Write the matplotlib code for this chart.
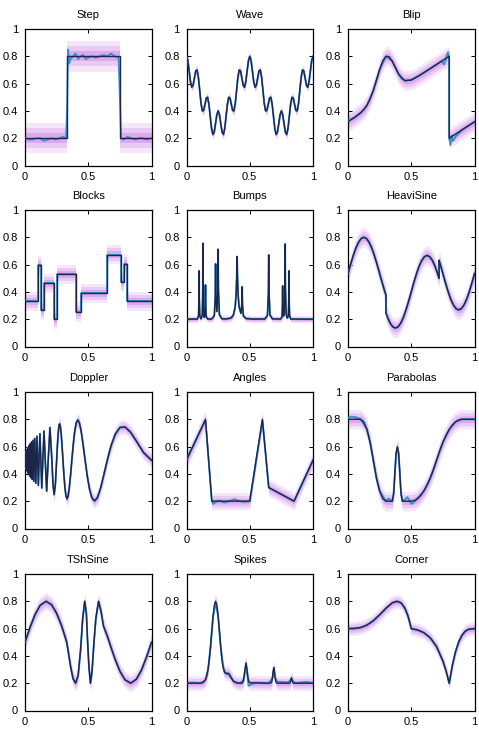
import numpy as np
import matplotlib
matplotlib.use("Agg")
import matplotlib.pyplot as plt

plt.rcParams['font.family'] = ['Liberation Sans', 'DejaVu Sans']

# ---------------- data ----------------
titles = ["Step", "Wave", "Blip", "Blocks", "Bumps", "HeaviSine",
          "Doppler", "Angles", "Parabolas", "TShSine", "Spikes", "Corner"]

# typical half-width of the noisy observations around each curve
noise_spread = [0.062, 0.02, 0.04, 0.04, 0.015, 0.04,
                0.03, 0.035, 0.04, 0.035, 0.03, 0.028]

step_x = [0, 0.333, 0.333, 0.75, 0.75, 1]
step_y = [0.2, 0.2, 0.8, 0.8, 0.2, 0.2]
step_fit_x = [0, 0.03, 0.06, 0.09, 0.12, 0.15, 0.18, 0.21, 0.24, 0.27, 0.3, 0.325,
              0.333, 0.34, 0.35, 0.36, 0.38, 0.4, 0.42, 0.44, 0.46, 0.48, 0.5, 0.53,
              0.56, 0.59, 0.62, 0.65, 0.68, 0.71, 0.74, 0.75, 0.76, 0.78, 0.81, 0.84,
              0.87, 0.9, 0.93, 0.96, 1]
step_fit_y = [0.2, 0.19, 0.19, 0.2, 0.2, 0.18, 0.19, 0.2, 0.19, 0.2, 0.21, 0.2,
              0.45, 0.85, 0.75, 0.78, 0.8, 0.82, 0.78, 0.8, 0.81, 0.78, 0.79, 0.8,
              0.79, 0.8, 0.81, 0.8, 0.82, 0.8, 0.79, 0.5, 0.2, 0.19, 0.21, 0.2,
              0.19, 0.2, 0.2, 0.19, 0.2]

wave_x = np.linspace(0, 1, 97)
wave_y = [0.8, 0.769, 0.693, 0.614, 0.573, 0.588, 0.641, 0.693, 0.7, 0.647, 0.552,
          0.455, 0.4, 0.403, 0.448, 0.494, 0.5, 0.449, 0.359, 0.271, 0.227, 0.245,
          0.307, 0.372, 0.4, 0.372, 0.307, 0.245, 0.227, 0.271, 0.359, 0.449, 0.5,
          0.494, 0.448, 0.403, 0.4, 0.455, 0.552, 0.647, 0.7, 0.693, 0.641, 0.588,
          0.573, 0.614, 0.693, 0.769, 0.8,
          0.769, 0.693, 0.614, 0.573, 0.588, 0.641, 0.693, 0.7, 0.647, 0.552,
          0.455, 0.4, 0.403, 0.448, 0.494, 0.5, 0.449, 0.359, 0.271, 0.227, 0.245,
          0.307, 0.372, 0.4, 0.372, 0.307, 0.245, 0.227, 0.271, 0.359, 0.449, 0.5,
          0.494, 0.448, 0.403, 0.4, 0.455, 0.552, 0.647, 0.7, 0.693, 0.641, 0.588,
          0.573, 0.614, 0.693, 0.769, 0.8]

blip_x = [0, 0.05, 0.1, 0.125, 0.15, 0.175, 0.2, 0.225, 0.25, 0.275, 0.3, 0.325,
          0.35, 0.375, 0.4, 0.425, 0.45, 0.5, 0.55, 0.6, 0.7, 0.8, 0.8, 0.9, 1]
blip_y = [0.32, 0.351, 0.386, 0.409, 0.442, 0.488, 0.55, 0.626, 0.704, 0.767, 0.8,
          0.797, 0.764, 0.716, 0.67, 0.638, 0.622, 0.626, 0.651, 0.68, 0.74, 0.8,
          0.2, 0.26, 0.32]
blip_fit_x = [0, 0.05, 0.1, 0.15, 0.2, 0.25, 0.3, 0.35, 0.4, 0.45, 0.5, 0.6, 0.7,
              0.74, 0.76, 0.78, 0.79, 0.8, 0.8, 0.81, 0.82, 0.83, 0.85, 0.9, 1]
blip_fit_y = [0.33, 0.35, 0.385, 0.44, 0.55, 0.70, 0.80, 0.765, 0.67, 0.62, 0.627,
              0.68, 0.74, 0.765, 0.74, 0.80, 0.83, 0.79, 0.2, 0.15, 0.22, 0.18, 0.21,
              0.26, 0.32]

blocks_x = [0, 0.1, 0.1, 0.13, 0.13, 0.15, 0.15, 0.23, 0.23, 0.25, 0.25, 0.4, 0.4,
            0.44, 0.44, 0.65, 0.65, 0.76, 0.76, 0.78, 0.78, 0.81, 0.81, 1]
blocks_y = [0.33, 0.33, 0.594, 0.594, 0.264, 0.264, 0.462, 0.462, 0.198, 0.198,
            0.528, 0.528, 0.251, 0.251, 0.389, 0.389, 0.673, 0.673, 0.469, 0.469,
            0.607, 0.607, 0.33, 0.33]

bumps_x = [0, 0.085, 0.095, 0.09875, 0.1, 0.10125, 0.105, 0.115, 0.125, 0.12875,
           0.13, 0.13125, 0.135, 0.138, 0.144, 0.1485, 0.15, 0.1515, 0.156, 0.168,
           0.2, 0.22, 0.2275, 0.23, 0.2325, 0.24, 0.2475, 0.25, 0.2525, 0.26, 0.28,
           0.31, 0.34, 0.355, 0.37, 0.385, 0.3925, 0.397, 0.4, 0.403, 0.4075, 0.415,
           0.43, 0.4375, 0.44, 0.4425, 0.45, 0.47, 0.52, 0.62, 0.64, 0.6475, 0.65,
           0.6525, 0.66, 0.68, 0.745, 0.755, 0.75875, 0.76, 0.76125, 0.765, 0.772,
           0.778, 0.78, 0.782, 0.788, 0.796, 0.805, 0.80875, 0.81, 0.81125, 0.815,
           0.825, 1]
bumps_y = [0.2, 0.201, 0.222, 0.345, 0.554, 0.345, 0.222, 0.203, 0.235, 0.428,
           0.756, 0.428, 0.237, 0.215, 0.219, 0.303, 0.451, 0.303, 0.216, 0.201,
           0.202, 0.227, 0.369, 0.605, 0.373, 0.257, 0.415, 0.712, 0.412, 0.233,
           0.203, 0.202, 0.206, 0.212, 0.229, 0.291, 0.388, 0.513, 0.659, 0.514,
           0.389, 0.293, 0.243, 0.309, 0.437, 0.304, 0.223, 0.205, 0.201, 0.202,
           0.229, 0.393, 0.671, 0.393, 0.229, 0.202, 0.202, 0.217, 0.301, 0.444,
           0.302, 0.223, 0.236, 0.426, 0.751, 0.426, 0.235, 0.209, 0.224, 0.346,
           0.554, 0.346, 0.222, 0.201, 0.2]

heavi_x = [0, 0.0208, 0.0417, 0.0625, 0.0833, 0.1042, 0.125, 0.1458, 0.1667, 0.1875,
           0.2083, 0.2292, 0.25, 0.2708, 0.2917, 0.3, 0.3, 0.3125, 0.3333, 0.3542,
           0.375, 0.3958, 0.4167, 0.4375, 0.4583, 0.4792, 0.5, 0.5208, 0.5417, 0.5625,
           0.5833, 0.6042, 0.625, 0.6458, 0.6667, 0.6875, 0.7083, 0.72, 0.72, 0.7292,
           0.75, 0.7708, 0.7917, 0.8125, 0.8333, 0.8542, 0.875, 0.8958, 0.9167,
           0.9375, 0.9583, 0.9792, 1.0]
heavi_y = [0.534, 0.603, 0.667, 0.722, 0.764, 0.791, 0.800, 0.791, 0.764, 0.722,
           0.667, 0.603, 0.534, 0.465, 0.401, 0.378, 0.245, 0.213, 0.171, 0.144,
           0.135, 0.144, 0.171, 0.213, 0.268, 0.332, 0.401, 0.470, 0.534, 0.589,
           0.631, 0.658, 0.667, 0.658, 0.631, 0.589, 0.534, 0.499, 0.632, 0.603,
           0.534, 0.465, 0.401, 0.346, 0.304, 0.277, 0.268, 0.277, 0.304, 0.346,
           0.401, 0.465, 0.534]

doppler_x = [0, 0.0019, 0.0032, 0.0045, 0.006, 0.0075, 0.0092, 0.0109, 0.0127, 0.0146,
             0.0167, 0.0189, 0.0212, 0.0237, 0.0264, 0.0292, 0.0324, 0.0357, 0.0394,
             0.0433, 0.0477, 0.0524, 0.0577, 0.0635, 0.07, 0.0773, 0.0855, 0.0948,
             0.1056, 0.118, 0.125, 0.1326, 0.1409, 0.15, 0.16, 0.1711, 0.1833, 0.1971,
             0.2125, 0.221, 0.23, 0.2397, 0.25, 0.2555, 0.2611, 0.267, 0.2731, 0.2794,
             0.286, 0.2929, 0.3, 0.3074, 0.3152, 0.3233, 0.3318, 0.3407, 0.35, 0.3598,
             0.37, 0.3808, 0.3921, 0.4041, 0.4167, 0.43, 0.4441, 0.4591, 0.475, 0.4919,
             0.51, 0.5293, 0.55, 0.5722, 0.5962, 0.622, 0.65, 0.6804, 0.7136, 0.75,
             0.79, 0.8342, 0.8833, 0.9382, 1.0]
doppler_y = [0.5, 0.526, 0.466, 0.540, 0.454, 0.552, 0.443, 0.562, 0.433, 0.572,
             0.423, 0.582, 0.414, 0.591, 0.404, 0.601, 0.394, 0.611, 0.383, 0.622,
             0.372, 0.634, 0.360, 0.646, 0.347, 0.660, 0.332, 0.676, 0.316, 0.694,
             0.5, 0.297, 0.5, 0.714, 0.5, 0.274, 0.5, 0.739, 0.5, 0.324,
             0.248, 0.319, 0.5, 0.600, 0.686, 0.745, 0.767, 0.749, 0.692, 0.605,
             0.5, 0.394, 0.303, 0.241, 0.217, 0.237, 0.298, 0.390, 0.5, 0.611,
             0.707, 0.772, 0.796, 0.774, 0.711, 0.614, 0.5, 0.385, 0.288, 0.223,
             0.202, 0.226, 0.292, 0.389, 0.5, 0.607, 0.692, 0.740, 0.744, 0.706,
             0.636, 0.555, 0.5]

angles_x = [0, 0.15, 0.2, 0.5, 0.6, 0.65, 0.85, 1]
angles_y = [0.5, 0.8, 0.2, 0.2, 0.8, 0.3, 0.2, 0.5]
angles_fit_x = [0, 0.03, 0.05, 0.1, 0.15, 0.2, 0.21, 0.25, 0.3, 0.34, 0.38, 0.42,
                0.46, 0.5, 0.6, 0.65, 0.75, 0.85, 1]
angles_fit_y = [0.5, 0.57, 0.6, 0.7, 0.79, 0.2, 0.18, 0.205, 0.19, 0.2, 0.215, 0.2,
                0.195, 0.2, 0.79, 0.3, 0.25, 0.2, 0.5]

parab_x = [0, 0.1, 0.125, 0.15, 0.175, 0.2, 0.225, 0.25, 0.275, 0.3, 0.35, 0.36,
           0.365, 0.37, 0.38, 0.39, 0.4, 0.41, 0.415, 0.42, 0.43, 0.5, 0.525, 0.55,
           0.575, 0.6, 0.625, 0.65, 0.675, 0.7, 0.725, 0.75, 0.775, 0.8, 0.825, 0.85,
           0.875, 0.9, 1]
parab_y = [0.8, 0.8, 0.781, 0.725, 0.631, 0.5, 0.369, 0.275, 0.219, 0.2, 0.2, 0.25,
           0.313, 0.4, 0.55, 0.6, 0.55, 0.4, 0.313, 0.25, 0.2, 0.2, 0.205, 0.219,
           0.242, 0.275, 0.317, 0.369, 0.43, 0.5, 0.57, 0.631, 0.683, 0.725, 0.758,
           0.781, 0.795, 0.8, 0.8]
parab_fit_x = [0, 0.03, 0.06, 0.1, 0.15, 0.175, 0.2, 0.225, 0.25, 0.3, 0.32, 0.35,
               0.36, 0.37, 0.38, 0.39, 0.4, 0.41, 0.42, 0.43, 0.45, 0.47, 0.5, 0.53,
               0.6, 0.65, 0.7, 0.75, 0.8, 0.85, 0.9, 1]
parab_fit_y = [0.81, 0.82, 0.815, 0.8, 0.725, 0.631, 0.5, 0.369, 0.275, 0.2, 0.22,
               0.2, 0.25, 0.4, 0.55, 0.59, 0.55, 0.4, 0.25, 0.2, 0.21, 0.23, 0.18,
               0.2, 0.275, 0.369, 0.5, 0.631, 0.725, 0.781, 0.8, 0.8]

tsh_x = [0, 0.04, 0.08, 0.12, 0.167, 0.21, 0.25, 0.29, 0.33, 0.36, 0.38, 0.4, 0.42,
         0.44, 0.456, 0.472, 0.485, 0.495, 0.505, 0.517, 0.53, 0.545, 0.56, 0.581,
         0.6, 0.62, 0.65, 0.68, 0.71, 0.75, 0.79, 0.836, 0.88, 0.92, 0.96, 1]
tsh_y = [0.5, 0.61, 0.705, 0.771, 0.8, 0.775, 0.712, 0.619, 0.5, 0.324, 0.233, 0.2,
         0.257, 0.453, 0.676, 0.8, 0.712, 0.5, 0.324, 0.2, 0.288, 0.5, 0.676, 0.8,
         0.731, 0.619, 0.547, 0.462, 0.381, 0.288, 0.225, 0.2, 0.229, 0.295, 0.39,
         0.5]

spikes_x = [0, 0.11, 0.13, 0.15, 0.16, 0.17, 0.18, 0.19, 0.2, 0.21, 0.22, 0.23, 0.24,
            0.25, 0.26, 0.27, 0.28, 0.29, 0.3, 0.31, 0.32, 0.33, 0.34, 0.35, 0.37, 0.4,
            0.44, 0.449, 0.456, 0.463, 0.47, 0.477, 0.484, 0.491, 0.5, 0.66, 0.668,
            0.675, 0.68, 0.685, 0.69, 0.695, 0.7, 0.705, 0.712, 0.72, 0.815, 0.82,
            0.825, 0.83, 0.835, 0.84, 0.845, 1]
spikes_y = [0.2, 0.2, 0.204, 0.225, 0.252, 0.299, 0.372, 0.469, 0.583, 0.691, 0.771,
            0.8, 0.771, 0.691, 0.583, 0.469, 0.372, 0.313, 0.281, 0.272, 0.273, 0.274,
            0.264, 0.247, 0.214, 0.2, 0.2, 0.217, 0.25, 0.31, 0.35, 0.31, 0.25, 0.217,
            0.203, 0.2, 0.202, 0.215, 0.245, 0.29, 0.315, 0.29, 0.245, 0.215, 0.202,
            0.2, 0.2, 0.205, 0.225, 0.24, 0.225, 0.205, 0.2, 0.2]
spikes_fit_x = [0, 0.05, 0.1, 0.13, 0.15, 0.17, 0.19, 0.21, 0.23, 0.25, 0.27, 0.29,
                0.31, 0.33, 0.35, 0.38, 0.42, 0.45, 0.46, 0.47, 0.48, 0.49, 0.51, 0.55,
                0.6, 0.65, 0.68, 0.69, 0.7, 0.72, 0.76, 0.8, 0.83, 0.86, 0.9, 0.95, 1]
spikes_fit_y = [0.2, 0.205, 0.2, 0.21, 0.225, 0.3, 0.47, 0.69, 0.79, 0.69, 0.47,
                0.32, 0.27, 0.265, 0.24, 0.21, 0.2, 0.22, 0.28, 0.33, 0.27, 0.18, 0.19,
                0.205, 0.2, 0.2, 0.24, 0.3, 0.24, 0.21, 0.21, 0.205, 0.23, 0.2, 0.205,
                0.21, 0.2]

corner_x = [0, 0.05, 0.1, 0.15, 0.2, 0.25, 0.3, 0.35, 0.387, 0.42, 0.45, 0.475, 0.5,
            0.55, 0.6, 0.65, 0.7, 0.75, 0.775, 0.8, 0.825, 0.85, 0.875, 0.9, 0.925,
            0.95, 1]
corner_y = [0.6, 0.601, 0.608, 0.626, 0.658, 0.701, 0.749, 0.789, 0.8, 0.788, 0.749,
            0.69, 0.6, 0.59, 0.57, 0.533, 0.468, 0.363, 0.29, 0.2, 0.332, 0.431,
            0.502, 0.55, 0.579, 0.594, 0.6]

true_curves = [(step_x, step_y), (wave_x, wave_y), (blip_x, blip_y),
               (blocks_x, blocks_y), (bumps_x, bumps_y), (heavi_x, heavi_y),
               (doppler_x, doppler_y), (angles_x, angles_y), (parab_x, parab_y),
               (tsh_x, tsh_y), (spikes_x, spikes_y), (corner_x, corner_y)]
fit_curves = {0: (step_fit_x, step_fit_y), 2: (blip_fit_x, blip_fit_y),
              7: (angles_fit_x, angles_fit_y), 8: (parab_fit_x, parab_fit_y),
              10: (spikes_fit_x, spikes_fit_y)}

y_ticks = [0, 0.2, 0.4, 0.6, 0.8, 1]
y_ticklabels = ["0", "0.2", "0.4", "0.6", "0.8", "1"]
x_ticks = [0, 0.5, 1]
x_ticklabels = ["0", "0.5", "1"]

# ---------------- drawing ----------------
W, H = 479, 738
fig = plt.figure(figsize=(W / 100, H / 100), dpi=100)
col_left = [25, 186.5, 348]
row_top = [29, 210, 392, 574]
aw, ah = 126.5, 136.5

NOISE_OUT = '#f5e6f9'
NOISE_MID = '#ebc9f5'
NOISE_IN = '#dca9ee'
FIT = '#2f8fcf'
TRUE = '#1b2648'

for i, title in enumerate(titles):
    r, c = divmod(i, 3)
    ax = fig.add_axes([col_left[c] / W, 1 - (row_top[r] + ah) / H, aw / W, ah / H])
    tx, ty = true_curves[i]
    x = np.asarray(tx, float)
    y = np.asarray(ty, float)
    s = noise_spread[i]
    ax.fill_between(x, y - 1.8 * s, y + 1.8 * s, color=NOISE_OUT, lw=0, zorder=1)
    ax.fill_between(x, y - 1.2 * s, y + 1.2 * s, color=NOISE_MID, lw=0, zorder=1.5)
    ax.fill_between(x, y - 0.6 * s, y + 0.6 * s, color=NOISE_IN, lw=0, zorder=2)
    fx, fy = fit_curves.get(i, (tx, ty))
    ax.plot(fx, fy, color=FIT, lw=1.3, zorder=3)
    ax.plot(x, y, color=TRUE, lw=1.0, zorder=4)
    ax.set_xlim(0, 1)
    ax.set_ylim(0, 1)
    ax.set_xticks(x_ticks)
    ax.set_xticklabels(x_ticklabels)
    ax.set_yticks(y_ticks)
    ax.set_yticklabels(y_ticklabels)
    ax.tick_params(direction='in', top=True, right=True, length=3, width=0.7,
                   labelsize=8, pad=5)
    for sp in ax.spines.values():
        sp.set_linewidth(0.9)
    ax.set_title(title, fontsize=8, pad=8)

fig.savefig("out.png", dpi=100)
